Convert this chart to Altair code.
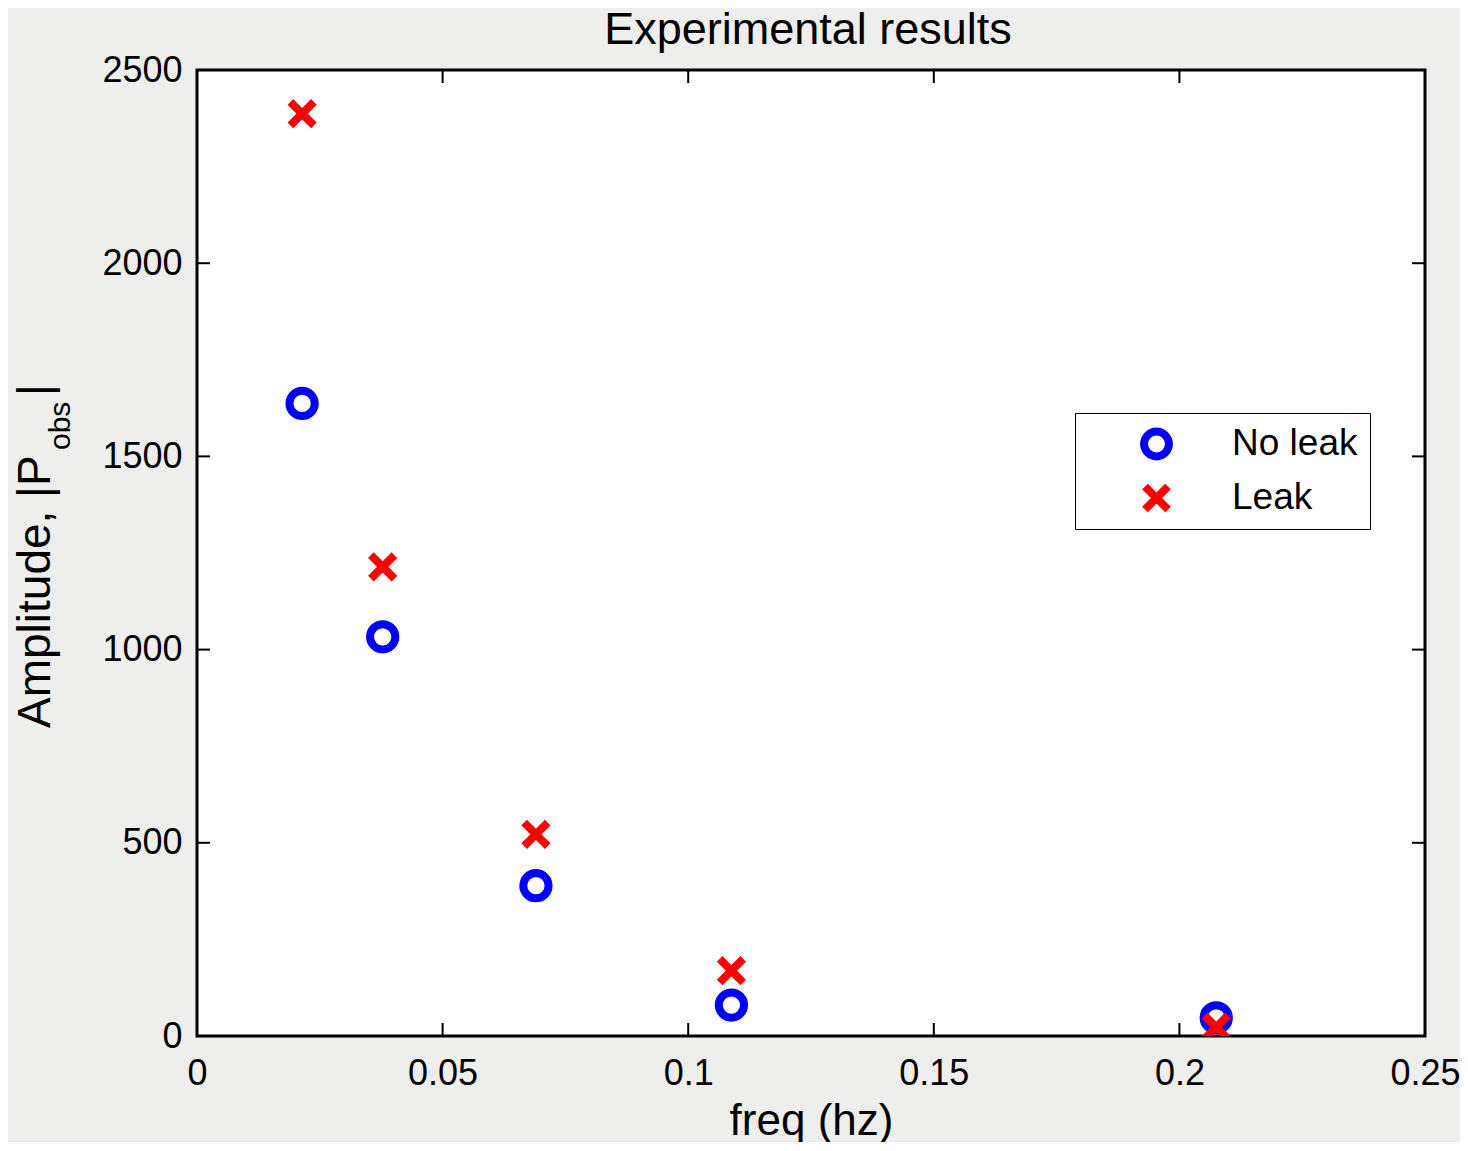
import altair as alt
import pandas as pd

# ---- data ----
freq = [0.0214, 0.0378, 0.0690, 0.1088, 0.2075]
no_leak = [1637, 1033, 389, 80, 47]
leak = [2387, 1214, 522, 169, 23]
series_names = ["No leak", "Leak"]
x_ticks = [0, 0.05, 0.1, 0.15, 0.2, 0.25]
y_ticks = [0, 500, 1000, 1500, 2000, 2500]
title_text = "Experimental results"

W, H = 1228, 966
FONT = "Liberation Sans"

df = pd.DataFrame({
    "freq": freq + freq,
    "amp": no_leak + leak,
    "series": [series_names[0]] * len(freq) + [series_names[1]] * len(freq),
})
xt = pd.DataFrame({"freq": x_ticks})
yt = pd.DataFrame({"amp": y_ticks})

x_axis = alt.Axis(title="freq (hz)", values=x_ticks, format="~g", ticks=False, tickSize=0,
                  domain=False, grid=False, labelFont=FONT, labelFontSize=36,
                  labelColor="black", labelBaseline="alphabetic", labelPadding=48,
                  titleFont=FONT, titleFontSize=44, titleFontWeight="normal",
                  titleColor="black", titleBaseline="alphabetic", titleY=98,
                  labelFlush=False, labelOverlap=False)
y_axis = alt.Axis(title=None, values=y_ticks, format="d", ticks=False, tickSize=0,
                  domain=False, grid=False, labelFont=FONT, labelFontSize=36,
                  labelColor="black", labelPadding=15, labelFlush=False,
                  labelOverlap=False)
x_scale = alt.Scale(domain=[0, 0.25], nice=False, zero=False)
y_scale = alt.Scale(domain=[0, 2500], nice=False)

cross = "M-0.93,-0.93L0.93,0.93M0.93,-0.93L-0.93,0.93"

legend = alt.Legend(title=None, orient="none", legendX=878, legendY=343,
                    labelFont=FONT, labelFontSize=37, labelColor="black",
                    symbolSize=616, symbolStrokeWidth=8, padding=12.5,
                    symbolOffset=50.5, labelOffset=57, rowPadding=16, clipHeight=37,
                    strokeColor="black", fillColor="white")

points = alt.Chart(df).mark_point(filled=False, strokeWidth=8, size=640, clip=True, opacity=1).encode(
    x=alt.X("freq:Q", scale=x_scale, axis=x_axis),
    y=alt.Y("amp:Q", scale=y_scale, axis=y_axis),
    color=alt.Color("series:N", scale=alt.Scale(domain=series_names, range=["#0000ff", "#ff0000"]),
                    legend=legend),
    shape=alt.Shape("series:N", scale=alt.Scale(domain=series_names, range=["circle", cross]),
                    legend=legend),
)

tick_len = 13
xb = alt.Chart(xt).mark_rule(color="black", strokeWidth=2).encode(
    x=alt.X("freq:Q", scale=x_scale, axis=x_axis), y=alt.value(H), y2=alt.value(H - tick_len))
xtop = alt.Chart(xt).mark_rule(color="black", strokeWidth=2).encode(
    x=alt.X("freq:Q", scale=x_scale, axis=x_axis), y=alt.value(0), y2=alt.value(tick_len))
yl = alt.Chart(yt).mark_rule(color="black", strokeWidth=2).encode(
    y=alt.Y("amp:Q", scale=y_scale, axis=y_axis), x=alt.value(0), x2=alt.value(tick_len))
yr = alt.Chart(yt).mark_rule(color="black", strokeWidth=2).encode(
    y=alt.Y("amp:Q", scale=y_scale, axis=y_axis), x=alt.value(W), x2=alt.value(W - tick_len))

# chart title
t_title = alt.Chart(pd.DataFrame({"t": [title_text]})).mark_text(
    font=FONT, fontSize=45, align="center", baseline="alphabetic", color="black"
).encode(text="t:N", x=alt.value(W / 2 - 3), y=alt.value(-26))

# y-axis title with subscript
t_main = alt.Chart(pd.DataFrame({"t": ["Amplitude, |P"]})).mark_text(
    font=FONT, fontSize=46, angle=270, align="left", baseline="alphabetic", color="black"
).encode(text="t:N", x=alt.value(-147), y=alt.value(658))
t_sub = alt.Chart(pd.DataFrame({"t": ["obs"]})).mark_text(
    font=FONT, fontSize=30, angle=270, align="left", baseline="alphabetic", color="black"
).encode(text="t:N", x=alt.value(-127), y=alt.value(380))
t_bar = alt.Chart(pd.DataFrame({"t": ["|"]})).mark_text(
    font=FONT, fontSize=46, angle=270, align="left", baseline="alphabetic", color="black"
).encode(text="t:N", x=alt.value(-147), y=alt.value(326))

chart = alt.layer(points, xb, xtop, yl, yr, t_title, t_main, t_sub, t_bar).properties(
    width=W, height=H,
    autosize=alt.AutoSizeParams(type="none"),
    padding={"left": 189, "top": 62, "right": 35, "bottom": 106},
    background="#eeeeec",
).configure_view(fill="white", stroke="black", strokeWidth=3)

chart.save("out.html", embed_options={"renderer": "svg", "actions": False})
